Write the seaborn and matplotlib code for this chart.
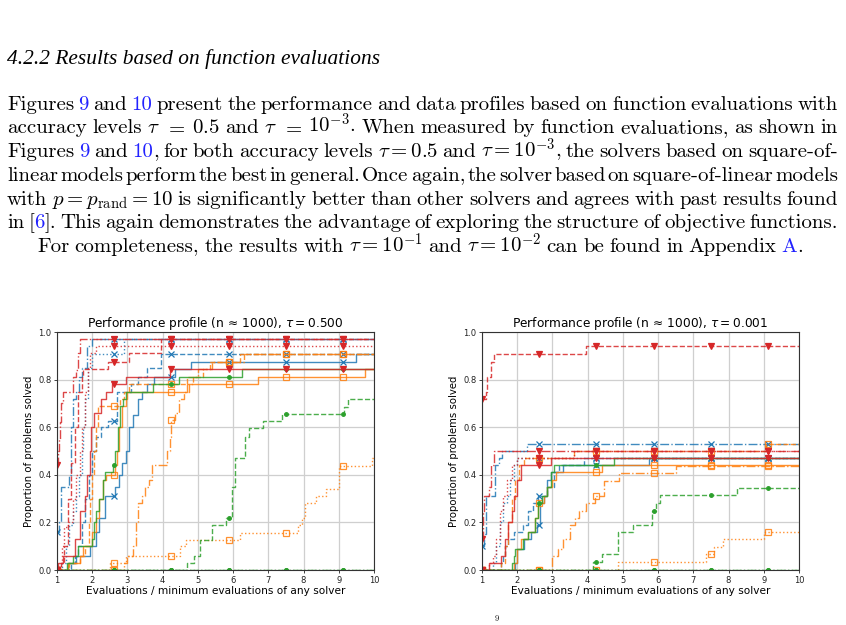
import numpy as np
import pandas as pd
import seaborn as sns
import matplotlib.pyplot as plt
from matplotlib.transforms import IdentityTransform

W, H = 846, 625

# ratio positions where the solver markers are drawn (same in both panels)
mark_x = [1.0, 2.625, 4.25, 5.875, 7.5, 9.125]

# ---- performance profile, tau = 0.5 : (ratio, proportion) steps ----
t5_blue_solid = [(1, 0.0), (1.3, 0.03), (1.55, 0.06), (1.95, 0.1), (2.1, 0.16), (2.2, 0.22),
                 (2.35, 0.31), (2.65, 0.35), (2.75, 0.4), (2.85, 0.45), (2.95, 0.5), (3.05, 0.6),
                 (3.15, 0.65), (3.3, 0.72), (3.4, 0.75), (3.55, 0.78), (3.75, 0.81), (4.35, 0.845),
                 (4.8, 0.875), (9.5, 0.906)]
t5_blue_dashed = [(1, 0.0), (1.4, 0.03), (1.5, 0.06), (1.6, 0.1), (1.7, 0.2), (1.8, 0.3), (1.9, 0.4),
                  (2.0, 0.5), (2.1, 0.56), (2.25, 0.6), (2.45, 0.625), (2.7, 0.75), (3.1, 0.78),
                  (3.3, 0.81), (3.55, 0.85), (3.95, 0.906)]
t5_blue_dashdot = [(1, 0.16), (1.05, 0.2), (1.12, 0.35), (1.35, 0.4), (1.4, 0.6), (1.45, 0.72),
                   (1.55, 0.75), (1.62, 0.81), (1.7, 0.85), (1.85, 0.94), (1.98, 0.97)]
t5_blue_dotted = [(1, 0.0), (1.15, 0.03), (1.25, 0.1), (1.35, 0.19), (1.45, 0.25), (1.55, 0.31),
                  (1.62, 0.4), (1.7, 0.5), (1.75, 0.6), (1.8, 0.72), (1.87, 0.85), (2.0, 0.906),
                  (2.9, 0.97)]
t5_orange_solid = [(1, 0.0), (1.3, 0.03), (1.65, 0.06), (1.75, 0.1), (2.0, 0.16), (2.1, 0.22),
                   (2.2, 0.3), (2.3, 0.38), (2.4, 0.4), (2.66, 0.44), (2.7, 0.5), (2.77, 0.6),
                   (2.85, 0.69), (2.95, 0.72), (3.0, 0.75), (4.7, 0.78), (6.7, 0.81), (9.75, 0.845)]
t5_orange_dashed = [(1, 0.0), (1.35, 0.03), (1.65, 0.06), (1.8, 0.1), (1.9, 0.2), (1.95, 0.3),
                    (2.0, 0.4), (2.05, 0.5), (2.1, 0.6), (2.15, 0.69), (2.8, 0.72), (2.9, 0.75),
                    (3.05, 0.78), (4.7, 0.81), (5.15, 0.845), (5.35, 0.875), (6.2, 0.906)]
t5_orange_dashdot = [(1, 0.0), (2.9, 0.03), (3.0, 0.06), (3.15, 0.1), (3.25, 0.2), (3.3, 0.28),
                     (3.4, 0.31), (3.5, 0.35), (3.62, 0.38), (3.7, 0.44), (4.12, 0.5), (4.2, 0.56),
                     (4.24, 0.63), (4.35, 0.66), (4.45, 0.72), (4.6, 0.75), (4.75, 0.78),
                     (4.85, 0.81), (5.0, 0.845), (5.4, 0.875), (6.3, 0.906)]
t5_orange_dotted = [(1, 0.0), (2.5, 0.03), (2.95, 0.06), (4.5, 0.1), (4.65, 0.125), (6.2, 0.155),
                    (7.85, 0.19), (7.95, 0.22), (8.05, 0.28), (8.35, 0.31), (8.65, 0.34),
                    (9.0, 0.435), (9.95, 0.47)]
t5_green_solid = [(1, 0.0), (1.28, 0.03), (1.45, 0.06), (1.6, 0.1), (2.0, 0.13), (2.05, 0.2),
                  (2.12, 0.25), (2.2, 0.3), (2.3, 0.38), (2.35, 0.41), (2.6, 0.44), (2.65, 0.5),
                  (2.72, 0.6), (2.8, 0.69), (2.88, 0.72), (2.95, 0.75), (3.72, 0.78), (4.45, 0.81),
                  (6.24, 0.845)]
t5_green_dashed = [(1, 0.0), (4.68, 0.03), (4.9, 0.06), (5.05, 0.125), (5.4, 0.19), (5.8, 0.22),
                   (5.98, 0.35), (6.05, 0.47), (6.35, 0.56), (6.45, 0.595), (6.85, 0.625),
                   (7.4, 0.655), (9.15, 0.686), (9.27, 0.72)]
t5_green_dashdot = [(1, 0.0)]
t5_green_dotted = [(1, 0.0)]
t5_red_solid = [(1, 0.0), (1.02, 0.03), (1.17, 0.06), (1.5, 0.13), (1.65, 0.25), (1.8, 0.31),
                (1.85, 0.4), (1.93, 0.5), (1.97, 0.6), (2.05, 0.66), (2.25, 0.72), (2.4, 0.75),
                (2.55, 0.78), (2.95, 0.81), (4.2, 0.845)]
t5_red_dashed = [(1, 0.0), (1.1, 0.03), (1.2, 0.1), (1.3, 0.3), (1.4, 0.45), (1.5, 0.6),
                 (1.6, 0.75), (1.7, 0.81), (1.75, 0.845), (2.45, 0.875), (3.05, 0.91), (3.95, 0.97)]
t5_red_dashdot = [(1, 0.44), (1.02, 0.5), (1.05, 0.55), (1.08, 0.62), (1.12, 0.7), (1.17, 0.75),
                  (1.45, 0.81), (1.55, 0.84), (1.6, 0.91), (1.66, 0.97)]
t5_red_dotted = [(1, 0.0), (1.1, 0.03), (1.15, 0.1), (1.2, 0.18), (1.3, 0.2), (1.45, 0.3),
                 (1.55, 0.4), (1.65, 0.5), (1.72, 0.6), (1.8, 0.75), (1.87, 0.85), (1.95, 0.91),
                 (2.1, 0.94)]

# ---- performance profile, tau = 0.001 ----
t3_blue_solid = [(1, 0.0), (1.95, 0.03), (2.0, 0.09), (2.2, 0.13), (2.4, 0.16), (2.55, 0.19),
                 (2.65, 0.28), (2.75, 0.31), (2.85, 0.38), (2.95, 0.41), (3.3, 0.44), (5.75, 0.47)]
t3_blue_dashed = [(1, 0.0), (1.55, 0.03), (1.6, 0.06), (1.65, 0.1), (1.75, 0.13), (1.9, 0.16),
                  (2.15, 0.19), (2.3, 0.25), (2.45, 0.28), (2.6, 0.31), (2.85, 0.35), (3.05, 0.41),
                  (3.2, 0.44), (3.9, 0.47)]
t3_blue_dashdot = [(1, 0.1), (1.05, 0.15), (1.1, 0.31), (1.37, 0.44), (1.47, 0.47), (1.57, 0.5),
                   (2.27, 0.53)]
t3_blue_dotted = [(1, 0.0), (1.3, 0.03), (1.4, 0.1), (1.5, 0.2), (1.6, 0.28), (1.7, 0.31),
                  (1.8, 0.38), (1.9, 0.44), (2.0, 0.47)]
t3_orange_solid = [(1, 0.0), (1.9, 0.03), (2.0, 0.09), (2.1, 0.13), (2.3, 0.16), (2.5, 0.22),
                   (2.6, 0.28), (2.75, 0.31), (2.85, 0.35), (3.0, 0.38), (3.1, 0.41), (4.4, 0.44)]
t3_orange_dashed = [(1, 0.0), (1.55, 0.03), (1.65, 0.1), (1.75, 0.2), (1.85, 0.3), (1.95, 0.38),
                    (2.05, 0.44), (2.2, 0.47), (3.62, 0.5), (9.05, 0.53)]
t3_orange_dashdot = [(1, 0.0), (3.0, 0.06), (3.15, 0.09), (3.3, 0.13), (3.5, 0.19), (3.65, 0.22),
                     (3.75, 0.25), (3.95, 0.28), (4.2, 0.31), (4.45, 0.375), (4.9, 0.406),
                     (6.5, 0.435)]
t3_orange_dotted = [(1, 0.0), (4.86, 0.035), (7.37, 0.067), (7.6, 0.098), (7.85, 0.13), (9.0, 0.16)]
t3_green_solid = [(1, 0.0), (1.85, 0.03), (1.9, 0.06), (1.95, 0.09), (2.15, 0.13), (2.3, 0.16),
                  (2.5, 0.22), (2.6, 0.28), (2.7, 0.31), (2.85, 0.35), (2.95, 0.41), (3.05, 0.44),
                  (4.75, 0.47)]
t3_green_dashed = [(1, 0.0), (4.15, 0.035), (4.4, 0.067), (4.85, 0.16), (5.3, 0.19), (5.83, 0.25),
                   (5.95, 0.28), (6.05, 0.315), (8.23, 0.346)]
t3_green_dashdot = [(1, 0.0)]
t3_green_dotted = [(1, 0.0)]
t3_red_solid = [(1, 0.0), (1.2, 0.03), (1.55, 0.06), (1.65, 0.13), (1.75, 0.2), (1.85, 0.25),
                (1.9, 0.31), (2.0, 0.38), (2.1, 0.44), (2.95, 0.47)]
t3_red_dashed = [(1, 0.72), (1.1, 0.75), (1.15, 0.81), (1.25, 0.875), (1.35, 0.906), (3.94, 0.94)]
t3_red_dashdot = [(1, 0.13), (1.02, 0.25), (1.06, 0.31), (1.2, 0.35), (1.25, 0.44), (1.35, 0.5)]
t3_red_dotted = [(1, 0.0), (1.2, 0.03), (1.3, 0.06), (1.4, 0.13), (1.5, 0.25), (1.6, 0.31),
                 (1.72, 0.38), (1.85, 0.44), (2.0, 0.47), (3.6, 0.5)]

# ---- page text ----
heading = "4.2.2 Results based on function evaluations"
body_lines = [
    "Figures |9| and |10| present the performance and data profiles based on function evaluations with",
    r"accuracy levels $\tau$ $=$ $0.5$ and $\tau$ $=$ $10^{-3}$. When measured by function evaluations, as shown in",
    r"Figures |9| and |10|, for both accuracy levels $\tau=0.5$ and $\tau=10^{-3}$, the solvers based on square-of-",
    "linear models perform the best in general. Once again, the solver based on square-of-linear models",
    r"with $p=p_{\mathrm{rand}}=10$ is significantly better than other solvers and agrees with past results found",
    "in [|6|]. This again demonstrates the advantage of exploring the structure of objective functions.",
    r"For completeness, the results with $\tau=10^{-1}$ and $\tau=10^{-2}$ can be found in Appendix |A|.",
]
line_base = [109.5, 133.3, 157.1, 180.9, 204.7, 228.5, 252.3]
line_left = [7, 7, 7, 7, 7, 7, 37]
line_right = [838, 838, 838, 838, 838, 838, 803]

colors = {'blue': '#1f77b4', 'orange': '#ff7f0e', 'green': '#2ca02c', 'red': '#d62728'}
markers = {'blue': 'x', 'orange': 's', 'green': 'o', 'red': 'v'}
msize = {'blue': 4.0, 'orange': 4.5, 'green': 2.6, 'red': 4.2}
styles = {'solid': '-', 'dashed': '--', 'dashdot': '-.', 'dotted': ':'}

panel_05 = [
    ('blue', 'solid', t5_blue_solid), ('blue', 'dashed', t5_blue_dashed),
    ('blue', 'dashdot', t5_blue_dashdot), ('blue', 'dotted', t5_blue_dotted),
    ('orange', 'solid', t5_orange_solid), ('orange', 'dashed', t5_orange_dashed),
    ('orange', 'dashdot', t5_orange_dashdot), ('orange', 'dotted', t5_orange_dotted),
    ('green', 'solid', t5_green_solid), ('green', 'dashed', t5_green_dashed),
    ('green', 'dashdot', t5_green_dashdot), ('green', 'dotted', t5_green_dotted),
    ('red', 'solid', t5_red_solid), ('red', 'dashed', t5_red_dashed),
    ('red', 'dashdot', t5_red_dashdot), ('red', 'dotted', t5_red_dotted),
]
panel_001 = [
    ('blue', 'solid', t3_blue_solid), ('blue', 'dashed', t3_blue_dashed),
    ('blue', 'dashdot', t3_blue_dashdot), ('blue', 'dotted', t3_blue_dotted),
    ('orange', 'solid', t3_orange_solid), ('orange', 'dashed', t3_orange_dashed),
    ('orange', 'dashdot', t3_orange_dashdot), ('orange', 'dotted', t3_orange_dotted),
    ('green', 'solid', t3_green_solid), ('green', 'dashed', t3_green_dashed),
    ('green', 'dashdot', t3_green_dashdot), ('green', 'dotted', t3_green_dotted),
    ('red', 'solid', t3_red_solid), ('red', 'dashed', t3_red_dashed),
    ('red', 'dashdot', t3_red_dashdot), ('red', 'dotted', t3_red_dotted),
]

fig = plt.figure(figsize=(W / 100, H / 100), dpi=100)
renderer = fig.canvas.get_renderer()
px = IdentityTransform()
BODY = 15.0
LINK = '#2222ff'


def write_line(text, y_base, x0, x1):
    # split into words, each word into black / blue pieces, then justify
    words = []
    for w in text.split(' '):
        parts = w.split('|')
        words.append([(p, LINK if i % 2 else 'black') for i, p in enumerate(parts) if p])
    placed = []
    total = 0.0
    for w in words:
        objs = []
        ww = 0.0
        for s, c in w:
            t = fig.text(0, H - y_base, s, transform=px, color=c, fontsize=BODY,
                         family='cmr10', math_fontfamily='cm', va='baseline', ha='left')
            wd = t.get_window_extent(renderer).width
            objs.append((t, ww))
            ww += wd
        placed.append((objs, ww))
        total += ww
    gap = (x1 - x0 - total) / max(len(words) - 1, 1)
    x = x0
    for objs, ww in placed:
        for t, off in objs:
            t.set_x(x + off)
        x += ww + gap


fig.text(7, H - 64, heading, transform=px, fontsize=15.4, family='Liberation Serif',
         style='italic', va='baseline', ha='left')
for txt, yb, a, b in zip(body_lines, line_base, line_left, line_right):
    write_line(txt, yb, a, b)
# page number at the bottom edge
fig.text(497, 2, '9', transform=px, fontsize=6, family='cmr10', va='bottom', ha='center')


def draw_panel(ax, panel, title):
    for cname, sname, pts in panel:
        xs = [p[0] for p in pts] + [10.5]
        ys = [p[1] for p in pts] + [pts[-1][1]]
        df = pd.DataFrame({'ratio': xs, 'solved': ys})
        sns.lineplot(data=df, x='ratio', y='solved', ax=ax, color=colors[cname],
                     linestyle=styles[sname], drawstyle='steps-post', linewidth=1.0,
                     alpha=0.85, estimator=None, sort=False, legend=False)
        idx = np.searchsorted(xs, mark_x, side='right') - 1
        my = np.array(ys)[idx]
        if cname == 'orange':
            ax.plot(mark_x, my, linestyle='none', marker='s', ms=msize[cname],
                    mfc='none', mec=colors[cname], mew=0.9, alpha=0.85)
        else:
            ax.plot(mark_x, my, linestyle='none', marker=markers[cname], ms=msize[cname],
                    color=colors[cname], mew=0.9)
    ax.set_xlim(1, 10)
    ax.set_ylim(0, 1)
    ax.set_xticks(range(1, 11))
    ax.set_yticks([0.0, 0.2, 0.4, 0.6, 0.8, 1.0])
    ax.grid(True, color='#cfcfcf', linewidth=0.9)
    ax.set_axisbelow(True)
    ax.tick_params(labelsize=6.0, length=2.5, width=0.6, pad=1.5, colors='#222222')
    for sp in ax.spines.values():
        sp.set_linewidth(0.8)
        sp.set_color('#333333')
    ax.set_title(title, fontsize=8.7, pad=3.5)
    ax.set_xlabel('Evaluations / minimum evaluations of any solver', fontsize=7.6, labelpad=1.2)
    ax.set_ylabel('Proportion of problems solved', fontsize=7.3, labelpad=3)


ax1 = fig.add_axes([57 / W, 55 / H, 317 / W, 238 / H])
ax2 = fig.add_axes([482 / W, 55 / H, 317 / W, 238 / H])
draw_panel(ax1, panel_05, r'Performance profile (n$\,\approx\,$1000), $\tau = 0.500$')
draw_panel(ax2, panel_001, r'Performance profile (n$\,\approx\,$1000), $\tau = 0.001$')

fig.savefig('out.png', dpi=100)
